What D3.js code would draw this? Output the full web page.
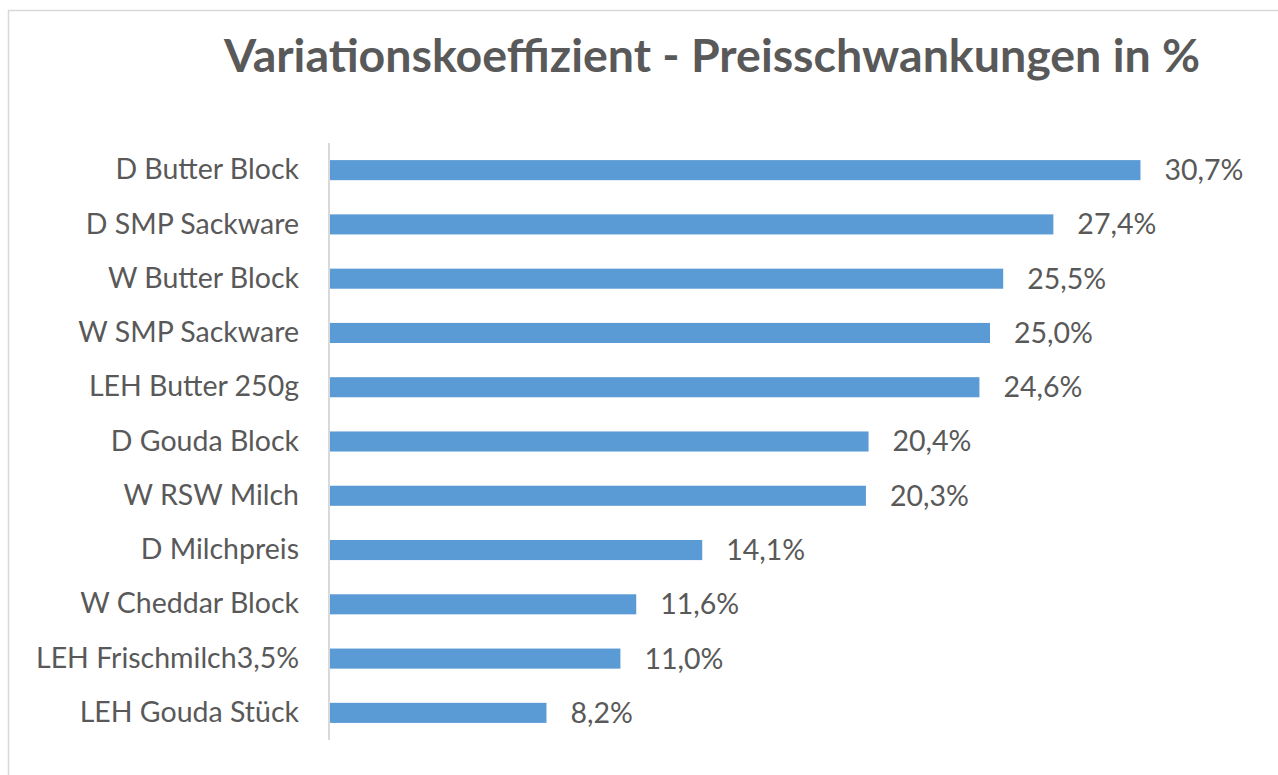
<!DOCTYPE html>
<html>
<head>
<meta charset="utf-8">
<script src="https://cdn.jsdelivr.net/npm/d3@7"></script>
<style>
	body { margin: 0; background: #fff; }
	svg { display: block; font-family: Lato, "Open Sans", sans-serif; }
</style>
</head>
<body>
<div id="chart"></div>
<script>
const categories = [
	'D Butter Block',
	'D SMP Sackware',
	'W Butter Block',
	'W SMP Sackware',
	'LEH Butter 250g',
	'D Gouda Block',
	'W RSW Milch',
	'D Milchpreis',
	'W Cheddar Block',
	'LEH Frischmilch3,5%',
	'LEH Gouda Stück',
];
const values = [30.7, 27.4, 25.5, 25.0, 24.6, 20.4, 20.3, 14.1, 11.6, 11.0, 8.2];
const xDomain = [0, 35];

const width = 1278;
const height = 775;
const textColor = '#595959';
const barColor = '#5b9bd5';

const svg = d3.select('#chart').append('svg')
	.attr('width', width)
	.attr('height', height);

// chart border
svg.append('rect')
	.attr('x', 8.5)
	.attr('y', 10.5)
	.attr('width', width)
	.attr('height', height)
	.style('fill', 'none')
	.style('stroke', '#d9d9d9')
	.style('stroke-width', 1.5);

svg.append('text')
	.attr('x', 712)
	.attr('y', 72)
	.attr('text-anchor', 'middle')
	.style('font-size', '46.5px')
	.style('font-weight', 'bold')
	.style('fill', textColor)
	.text('Variationskoeffizient - Preisschwankungen in %');

const x = d3.scaleLinear()
	.domain(xDomain)
	.range([330, 1254]);

const y = d3.scaleBand()
	.domain(categories)
	.range([143, 740])
	.paddingInner(0.63)
	.paddingOuter(0.315);

const yAxis = svg.append('g')
	.attr('transform', `translate(${x(0) - 1},0)`)
	.call(d3.axisLeft(y).tickSize(0).tickPadding(30));
yAxis.select('.domain')
	.attr('d', `M0,${y.range()[0]}V${y.range()[1]}`)
	.style('stroke', '#d9d9d9')
	.style('stroke-width', 2);
yAxis.selectAll('text')
	.style('font-size', '28.5px')
	.style('fill', textColor)
	.style('font-family', 'Lato, "Open Sans", sans-serif');

svg.selectAll('.bar')
	.data(values)
	.enter()
	.append('rect')
	.attr('class', 'bar')
	.attr('x', x(0))
	.attr('y', (d, i) => y(categories[i]))
	.attr('width', d => x(d) - x(0))
	.attr('height', y.bandwidth())
	.style('fill', barColor);

const fmt = d => d.toFixed(1).replace('.', ',') + '%';

svg.selectAll('.value')
	.data(values)
	.enter()
	.append('text')
	.attr('class', 'value')
	.attr('x', d => x(d) + 24)
	.attr('y', (d, i) => y(categories[i]) + y.bandwidth() / 2)
	.attr('dy', '0.35em')
	.style('font-size', '28.5px')
	.style('fill', textColor)
	.text(fmt);
</script>
</body>
</html>
